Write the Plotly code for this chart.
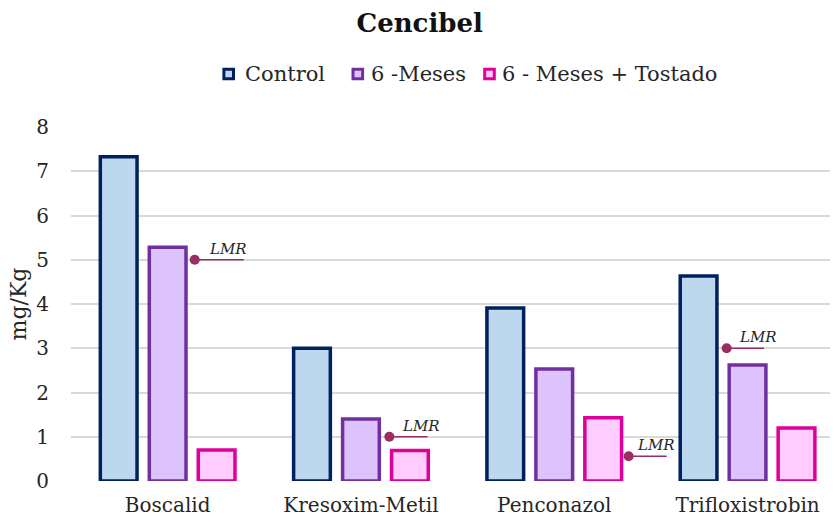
import plotly.graph_objects as go

# Residue levels (mg/Kg) per active substance
categories = ["Boscalid", "Kresoxim-Metil", "Penconazol", "Trifloxistrobin"]
series_names = ["Control", "6 -Meses", "6 - Meses + Tostado"]
control = [7.33, 3.00, 3.91, 4.63]
meses6 = [5.28, 1.40, 2.53, 2.62]
tostado = [0.70, 0.69, 1.43, 1.20]
# Maximum residue limit (LMR) for each substance
lmr = [5.0, 1.0, 0.56, 3.0]
y_ticks = [0, 1, 2, 3, 4, 5, 6, 7, 8]

FONT = "DejaVu Serif"
TEXT = "#262626"
fills = ["#BDD7EE", "#DCC3FB", "#FFCCFF"]
edges = ["#002060", "#7030A0", "#DD0099"]
LMR_COLOR = "#9B2D62"

# where each LMR marker sits relative to its category centre
lmr_offset = [0.14, 0.147, 0.385, -0.108]
lmr_len = [0.254, 0.197, 0.197, 0.193]
lmr_text_shift = [12, 11, 6, 10]

x_pos = list(range(len(categories)))

fig = go.Figure()
for name, vals, fc, lc in zip(series_names, [control, meses6, tostado], fills, edges):
    fig.add_trace(go.Bar(
        x=x_pos, y=vals, name=name,
        marker=dict(color=fc, line=dict(color=lc, width=3.5)),
        cliponaxis=False, showlegend=False,
    ))

# LMR reference ticks: short line plus dot
for i, v in enumerate(lmr):
    x0 = x_pos[i] + lmr_offset[i]
    fig.add_trace(go.Scatter(
        x=[x0, x0 + lmr_len[i]], y=[v, v], mode="lines",
        line=dict(color=LMR_COLOR, width=1.5), showlegend=False, hoverinfo="skip",
    ))
    fig.add_annotation(
        x=x0, y=v, xref="x", yref="y", text="LMR", showarrow=False,
        xanchor="left", yanchor="middle", xshift=lmr_text_shift[i], yshift=11,
        font=dict(family=FONT, size=15, color=TEXT, style="italic"),
    )
fig.add_trace(go.Scatter(
    x=[x_pos[i] + lmr_offset[i] for i in range(len(lmr))], y=lmr, mode="markers",
    marker=dict(color=LMR_COLOR, size=10), showlegend=False, cliponaxis=False,
))

# Legend row drawn as swatches + labels
W, H = 834, 522
ml, mr, mt, mb = 71, 4, 127, 41
pw, ph = W - ml - mr, H - mt - mb


def px_x(px):
    return (px - ml) / pw


def px_y(py):
    return (H - mb - py) / ph


legend_swatch_x = [228.7, 357.8, 489.5]
legend_text_x = [242.7, 369.3, 500.0]
legend_y = 74
for name, fc, lc, sx, tx in zip(series_names, fills, edges, legend_swatch_x, legend_text_x):
    fig.add_shape(
        type="rect", xref="paper", yref="paper",
        xsizemode="pixel", ysizemode="pixel",
        xanchor=px_x(sx), yanchor=px_y(legend_y),
        x0=-4.8, x1=4.8, y0=-4.8, y1=4.8,
        fillcolor=fc, line=dict(color=lc, width=3),
    )
    fig.add_annotation(
        x=px_x(tx), y=px_y(legend_y), xref="paper", yref="paper",
        text=name, showarrow=False, xanchor="left", yanchor="middle",
        font=dict(family=FONT, size=21, color=TEXT),
    )

fig.update_layout(
    width=W, height=H,
    margin=dict(l=ml, r=mr, t=mt, b=mb),
    paper_bgcolor="white", plot_bgcolor="white",
    barmode="group", bargap=0.24, bargroupgap=0.25,
    title=dict(
        text="<b>Cencibel</b>", x=419.7 / W, xanchor="center",
        y=1 - 22.5 / H, yanchor="middle",
        font=dict(family=FONT, size=26, color="#111111"),
    ),
    font=dict(family=FONT, color=TEXT),
)
fig.update_xaxes(
    range=[-0.5, -0.5 + pw / 193.3],
    tickvals=x_pos, ticktext=categories,
    showgrid=False, zeroline=False, showline=False, ticks="",
    tickfont=dict(family=FONT, size=20, color=TEXT),
    ticklabelstandoff=10,
)
fig.update_yaxes(
    range=[0, 8], tickvals=y_ticks,
    showgrid=True, gridcolor="#D9D9D9", gridwidth=1.5,
    zeroline=False, showline=False, ticks="",
    tickfont=dict(family=FONT, size=20, color=TEXT),
    ticklabelstandoff=21,
    title=dict(text="mg/Kg", font=dict(family=FONT, size=22, color=TEXT), standoff=3),
)

fig.write_html("out.html")
